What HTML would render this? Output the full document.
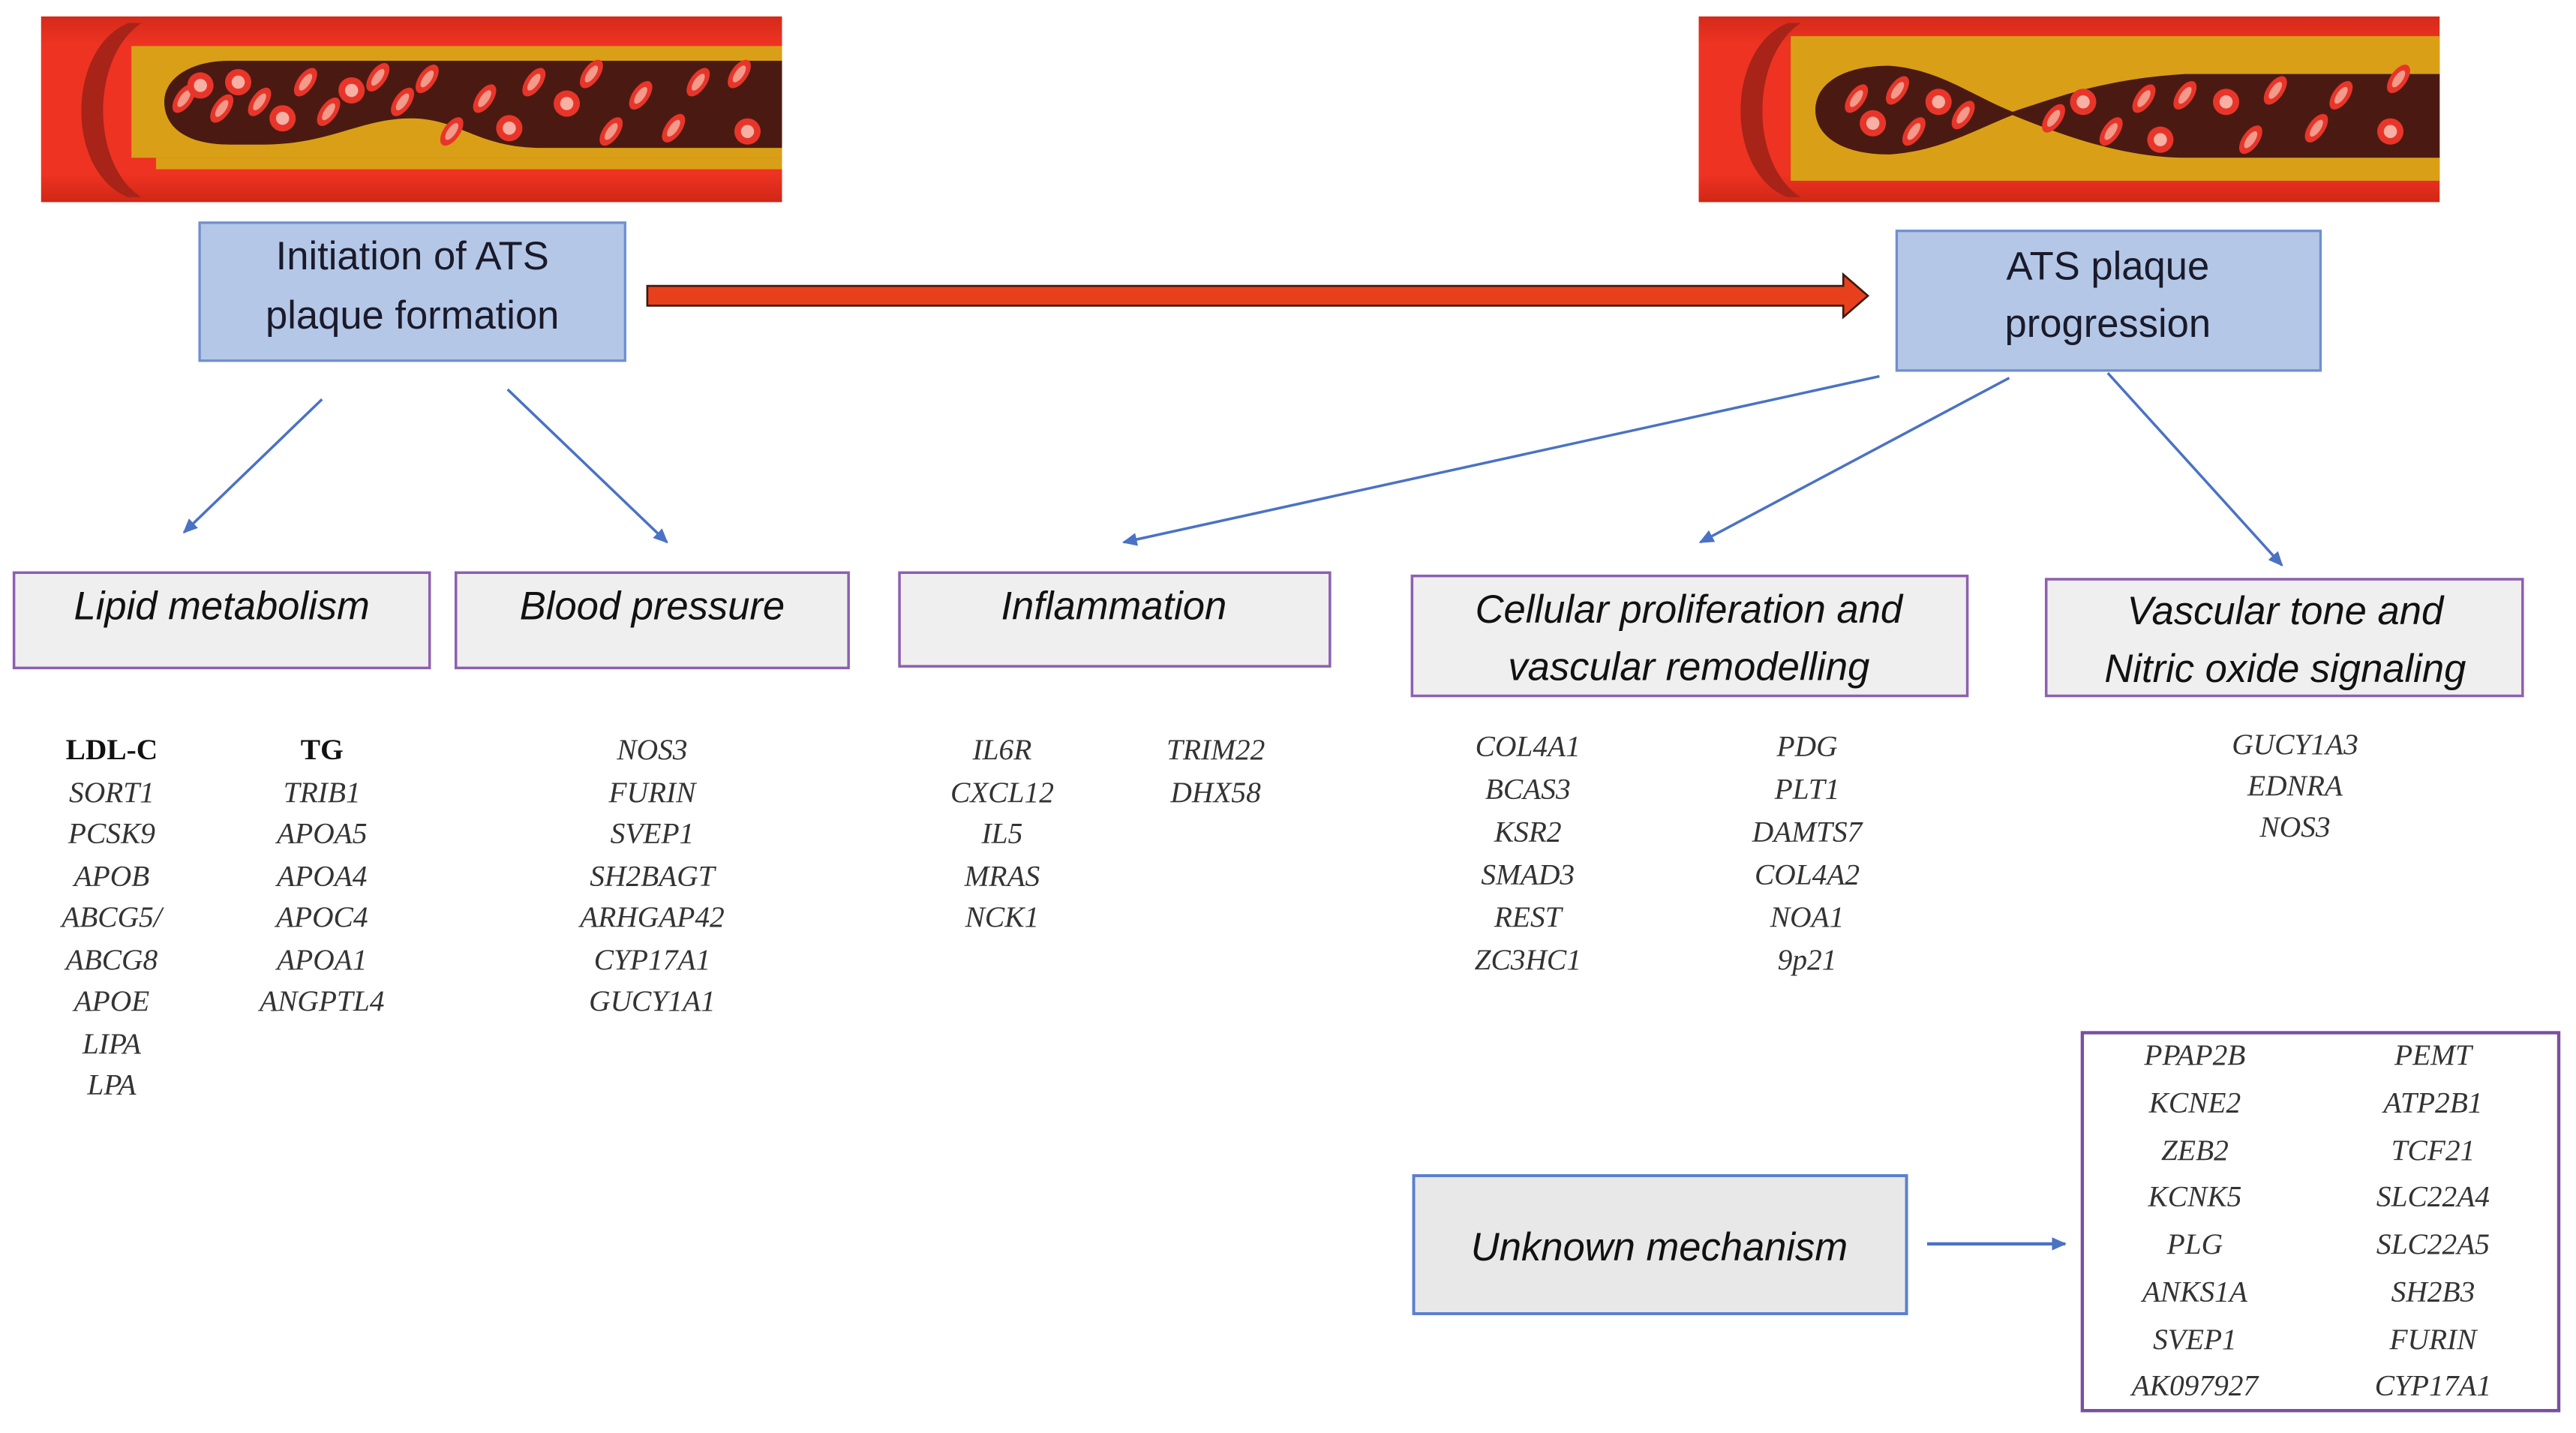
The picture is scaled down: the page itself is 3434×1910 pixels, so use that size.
<!DOCTYPE html>
<html><head><meta charset="utf-8"><style>
html,body{margin:0;padding:0;background:#fff;}
svg{display:block;}
.t{font-family:"Liberation Sans",sans-serif;fill:#1a1a2a;}
.c{font-family:"Liberation Sans",sans-serif;font-style:italic;fill:#111;}
.g{font-family:"Liberation Serif",serif;font-style:italic;fill:#333;font-size:18px;}
.b{font-family:"Liberation Serif",serif;font-weight:bold;fill:#111;font-size:18px;}
</style></head><body>
<svg width="3434" height="1910" viewBox="0 0 1568 872.1" xmlns="http://www.w3.org/2000/svg">
<defs>
<linearGradient id="red" x1="0" y1="0" x2="0" y2="1">
<stop offset="0" stop-color="#d42a1a"/><stop offset="0.15" stop-color="#ee3322"/><stop offset="0.85" stop-color="#ee3322"/><stop offset="1" stop-color="#d02616"/></linearGradient>
<marker id="ah" markerWidth="10" markerHeight="10" refX="8" refY="5" orient="auto" markerUnits="userSpaceOnUse"><path d="M0,1 L9,5 L0,9 Z" fill="#4a72c4"/></marker>
<g id="cell"><ellipse rx="5" ry="10" fill="#e8352a" transform="rotate(35)"/><ellipse rx="2.5" ry="6" fill="#f39a8a" transform="rotate(35)"/></g>
<g id="rcell"><circle r="8" fill="#e8352a"/><circle r="4" fill="#f6b0a4"/></g>
</defs>

<!-- Left vessel -->
<g>
<rect x="25" y="10" width="451" height="113" fill="url(#red)"/>
<rect x="80" y="28" width="396" height="68" fill="#d9a017"/>
<path d="M 95 103 L 476 103 L 476 96 L 95 96 Z" fill="#d9a017"/>
<path d="M 140 37 L 476 37 L 476 90 L 330 90 C 290 90 280 72 250 72 C 220 72 200 88 160 88 L 140 88 C 110 88 100 75 100 62 C 100 48 115 37 140 37 Z" fill="#4a1a12"/>
<path d="M 78 14 C 40 30 40 105 78 120 L 86 120 C 55 100 55 35 86 14 Z" fill="#a82318"/>
<g>
<use href="#cell" x="112" y="60"/>
<use href="#rcell" x="122" y="52"/><use href="#cell" x="135" y="66"/><use href="#rcell" x="145" y="50"/>
<use href="#cell" x="158" y="62"/><use href="#rcell" x="172" y="72"/><use href="#cell" x="186" y="50"/>
<use href="#cell" x="200" y="68"/><use href="#rcell" x="214" y="55"/><use href="#cell" x="230" y="47"/>
<use href="#cell" x="245" y="62"/><use href="#cell" x="260" y="48"/><use href="#cell" x="275" y="80"/>
<use href="#cell" x="295" y="60"/><use href="#rcell" x="310" y="78"/><use href="#cell" x="325" y="50"/>
<use href="#rcell" x="345" y="63"/><use href="#cell" x="360" y="45"/><use href="#cell" x="372" y="80"/>
<use href="#cell" x="390" y="58"/><use href="#cell" x="410" y="78"/><use href="#cell" x="425" y="50"/>
<use href="#rcell" x="455" y="80"/><use href="#cell" x="450" y="45"/>
</g>
</g>

<!-- Right vessel -->
<g>
<rect x="1034" y="10" width="451" height="113" fill="url(#red)"/>
<rect x="1090" y="22" width="395" height="88" fill="#d9a017"/>
<path d="M 1150 40 C 1180 42 1200 58 1225 68 C 1250 60 1280 48 1330 45 L 1485 45 L 1485 96 L 1330 96 C 1290 96 1250 80 1225 70 C 1200 80 1180 92 1150 94 C 1120 94 1105 82 1105 67 C 1105 52 1120 40 1150 40 Z" fill="#4a1a12"/>
<path d="M 1088 14 C 1050 30 1050 105 1088 120 L 1096 120 C 1065 100 1065 35 1096 14 Z" fill="#a82318"/>
<g>
<use href="#cell" x="1130" y="60"/><use href="#rcell" x="1140" y="75"/><use href="#cell" x="1155" y="55"/>
<use href="#cell" x="1165" y="80"/><use href="#rcell" x="1180" y="62"/><use href="#cell" x="1195" y="70"/>
<use href="#cell" x="1250" y="72"/><use href="#rcell" x="1268" y="62"/><use href="#cell" x="1285" y="80"/>
<use href="#cell" x="1305" y="60"/><use href="#rcell" x="1315" y="85"/><use href="#cell" x="1330" y="58"/>
<use href="#rcell" x="1355" y="62"/><use href="#cell" x="1370" y="85"/><use href="#cell" x="1385" y="55"/>
<use href="#cell" x="1410" y="78"/><use href="#cell" x="1425" y="58"/><use href="#rcell" x="1455" y="80"/><use href="#cell" x="1460" y="48"/>
</g>
</g>

<!-- Main boxes -->
<rect x="121.5" y="135.5" width="259" height="84" fill="#b4c7e7" stroke="#6f8fd0" stroke-width="1.5"/>
<text class="t" font-size="24" text-anchor="middle" x="251" y="164">Initiation of ATS</text>
<text class="t" font-size="24" text-anchor="middle" x="251" y="200">plaque formation</text>

<rect x="1154.5" y="140.5" width="258" height="85" fill="#b4c7e7" stroke="#6f8fd0" stroke-width="1.5"/>
<text class="t" font-size="24" text-anchor="middle" x="1283" y="170">ATS plaque</text>
<text class="t" font-size="24" text-anchor="middle" x="1283" y="205">progression</text>

<!-- red arrow -->
<path d="M 394 174 L 1122 174 L 1122 167 L 1137 180 L 1122 193 L 1122 186 L 394 186 Z" fill="#e8401c" stroke="#3a1a10" stroke-width="1.2"/>

<!-- blue arrows -->
<g stroke="#4a72c4" stroke-width="1.6" fill="none" marker-end="url(#ah)">
<line x1="196" y1="243" x2="112" y2="324"/>
<line x1="309" y1="237" x2="406" y2="330"/>
<line x1="1144" y1="229" x2="684" y2="330"/>
<line x1="1223" y1="230" x2="1035" y2="330"/>
<line x1="1283" y1="227" x2="1389" y2="344"/>
<line x1="1173" y1="757" x2="1257" y2="757" stroke-width="2"/>
</g>

<!-- category boxes -->
<g fill="#efefef" stroke="#8e5fb0" stroke-width="1.6">
<rect x="8.5" y="348.5" width="253" height="58"/>
<rect x="277.5" y="348.5" width="239" height="58"/>
<rect x="547.5" y="348.5" width="262" height="57"/>
<rect x="859.5" y="350.5" width="338" height="73"/>
<rect x="1245.5" y="352.5" width="290" height="71"/>
</g>
<g class="c" font-size="24" text-anchor="middle">
<text class="c" x="135" y="377">Lipid metabolism</text>
<text class="c" x="397" y="377">Blood pressure</text>
<text class="c" x="678" y="377">Inflammation</text>
<text class="c" x="1028" y="379">Cellular proliferation  and</text>
<text class="c" x="1028" y="414">vascular remodelling</text>
<text class="c" x="1391" y="380">Vascular tone and</text>
<text class="c" x="1391" y="415">Nitric oxide signaling</text>
</g>

<!-- unknown -->
<rect x="860.5" y="715.5" width="300" height="84" fill="#e8e8e8" stroke="#5a7fd0" stroke-width="1.8"/>
<text class="c" font-size="24" text-anchor="middle" x="1010" y="767">Unknown mechanism</text>
<rect x="1267.5" y="628.5" width="290" height="230" fill="#fff" stroke="#7a4fa0" stroke-width="2"/>

<!-- gene lists -->
<g text-anchor="middle">
<text class="b" x="68" y="462">LDL-C</text>
<text class="g" x="68" y="488">SORT1</text>
<text class="g" x="68" y="513">PCSK9</text>
<text class="g" x="68" y="539">APOB</text>
<text class="g" x="68" y="564">ABCG5/</text>
<text class="g" x="68" y="590">ABCG8</text>
<text class="g" x="68" y="615">APOE</text>
<text class="g" x="68" y="641">LIPA</text>
<text class="g" x="68" y="666">LPA</text>

<text class="b" x="196" y="462">TG</text>
<text class="g" x="196" y="488">TRIB1</text>
<text class="g" x="196" y="513">APOA5</text>
<text class="g" x="196" y="539">APOA4</text>
<text class="g" x="196" y="564">APOC4</text>
<text class="g" x="196" y="590">APOA1</text>
<text class="g" x="196" y="615">ANGPTL4</text>

<text class="g" x="397" y="462">NOS3</text>
<text class="g" x="397" y="488">FURIN</text>
<text class="g" x="397" y="513">SVEP1</text>
<text class="g" x="397" y="539">SH2BAGT</text>
<text class="g" x="397" y="564">ARHGAP42</text>
<text class="g" x="397" y="590">CYP17A1</text>
<text class="g" x="397" y="615">GUCY1A1</text>

<text class="g" x="610" y="462">IL6R</text>
<text class="g" x="610" y="488">CXCL12</text>
<text class="g" x="610" y="513">IL5</text>
<text class="g" x="610" y="539">MRAS</text>
<text class="g" x="610" y="564">NCK1</text>
<text class="g" x="740" y="462">TRIM22</text>
<text class="g" x="740" y="488">DHX58</text>

<text class="g" x="930" y="460">COL4A1</text>
<text class="g" x="930" y="486">BCAS3</text>
<text class="g" x="930" y="512">KSR2</text>
<text class="g" x="930" y="538">SMAD3</text>
<text class="g" x="930" y="564">REST</text>
<text class="g" x="930" y="590">ZC3HC1</text>
<text class="g" x="1100" y="460">PDG</text>
<text class="g" x="1100" y="486">PLT1</text>
<text class="g" x="1100" y="512">DAMTS7</text>
<text class="g" x="1100" y="538">COL4A2</text>
<text class="g" x="1100" y="564">NOA1</text>
<text class="g" x="1100" y="590">9p21</text>

<text class="g" x="1397" y="459">GUCY1A3</text>
<text class="g" x="1397" y="484">EDNRA</text>
<text class="g" x="1397" y="509">NOS3</text>

<text class="g" x="1336" y="648">PPAP2B</text>
<text class="g" x="1336" y="677">KCNE2</text>
<text class="g" x="1336" y="706">ZEB2</text>
<text class="g" x="1336" y="734">KCNK5</text>
<text class="g" x="1336" y="763">PLG</text>
<text class="g" x="1336" y="792">ANKS1A</text>
<text class="g" x="1336" y="821">SVEP1</text>
<text class="g" x="1336" y="849">AK097927</text>
<text class="g" x="1481" y="648">PEMT</text>
<text class="g" x="1481" y="677">ATP2B1</text>
<text class="g" x="1481" y="706">TCF21</text>
<text class="g" x="1481" y="734">SLC22A4</text>
<text class="g" x="1481" y="763">SLC22A5</text>
<text class="g" x="1481" y="792">SH2B3</text>
<text class="g" x="1481" y="821">FURIN</text>
<text class="g" x="1481" y="849">CYP17A1</text>
</g>
</svg>
</body></html>
